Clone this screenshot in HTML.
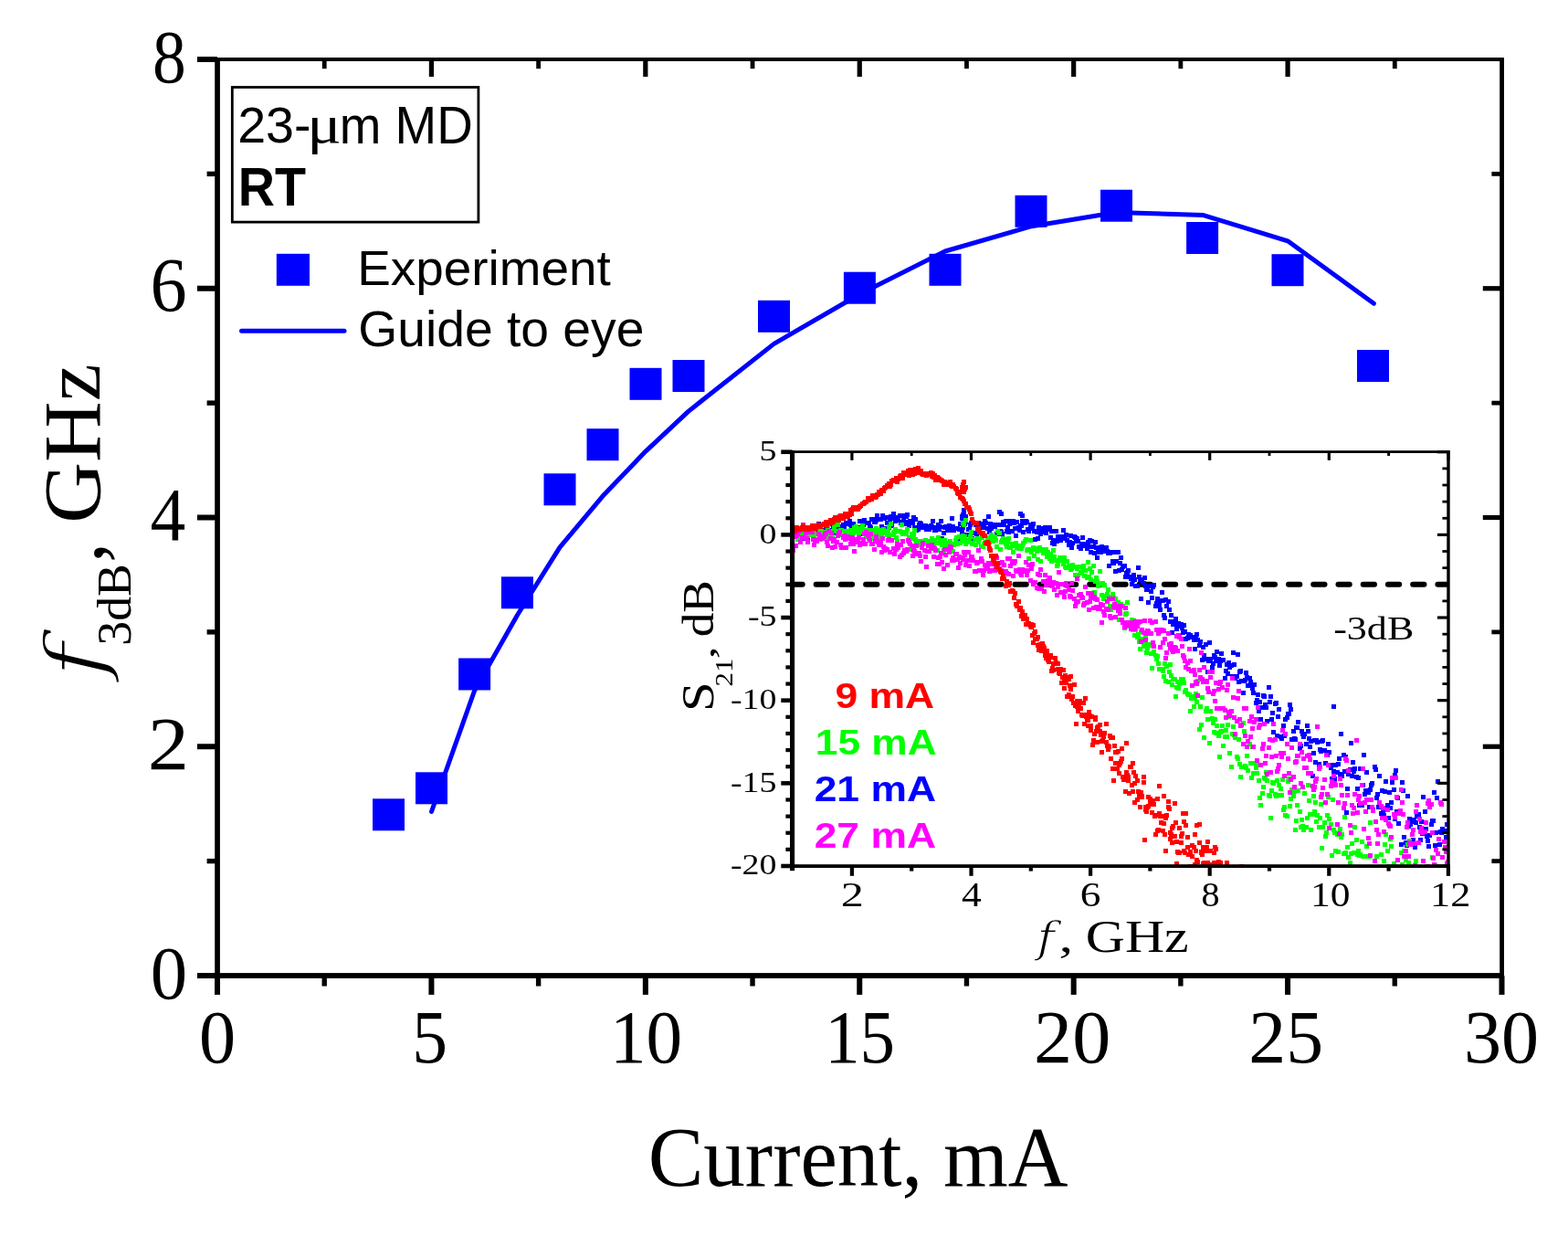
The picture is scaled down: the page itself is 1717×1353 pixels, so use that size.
<!DOCTYPE html>
<html><head><meta charset="utf-8"><title>f3dB vs Current</title>
<style>html,body{margin:0;padding:0;background:#fff;overflow:hidden;}svg{display:block;}</style></head>
<body><svg width="1717" height="1353" viewBox="0 0 1717 1353">
<defs><clipPath id="iclip"><rect x="867.6" y="494.8" width="718.3" height="453.2"/></clipPath></defs>
<rect width="1717" height="1353" fill="#fff"/>
<g id="axes"><rect x="235.20" y="63.00" width="5.70" height="1008.00" fill="#000"/><rect x="1642.20" y="63.00" width="4.80" height="1008.00" fill="#000"/><rect x="235.20" y="63.00" width="1411.80" height="4.00" fill="#000"/><rect x="235.20" y="1065.10" width="1411.80" height="5.80" fill="#000"/><rect x="235.00" y="1068.00" width="6.00" height="20.90" fill="#000"/><rect x="469.42" y="1068.00" width="6.00" height="20.90" fill="#000"/><rect x="703.83" y="1068.00" width="6.00" height="20.90" fill="#000"/><rect x="938.25" y="1068.00" width="6.00" height="20.90" fill="#000"/><rect x="1172.67" y="1068.00" width="6.00" height="20.90" fill="#000"/><rect x="1407.08" y="1068.00" width="6.00" height="20.90" fill="#000"/><rect x="1641.50" y="1068.00" width="6.00" height="20.90" fill="#000"/><rect x="352.51" y="1068.00" width="5.40" height="11.50" fill="#000"/><rect x="586.92" y="1068.00" width="5.40" height="11.50" fill="#000"/><rect x="821.34" y="1068.00" width="5.40" height="11.50" fill="#000"/><rect x="1055.76" y="1068.00" width="5.40" height="11.50" fill="#000"/><rect x="1290.17" y="1068.00" width="5.40" height="11.50" fill="#000"/><rect x="1524.59" y="1068.00" width="5.40" height="11.50" fill="#000"/><rect x="469.82" y="65.00" width="5.20" height="19.00" fill="#000"/><rect x="704.23" y="65.00" width="5.20" height="19.00" fill="#000"/><rect x="938.65" y="65.00" width="5.20" height="19.00" fill="#000"/><rect x="1173.07" y="65.00" width="5.20" height="19.00" fill="#000"/><rect x="1407.48" y="65.00" width="5.20" height="19.00" fill="#000"/><rect x="352.81" y="65.00" width="4.80" height="10.20" fill="#000"/><rect x="587.23" y="65.00" width="4.80" height="10.20" fill="#000"/><rect x="821.64" y="65.00" width="4.80" height="10.20" fill="#000"/><rect x="1056.06" y="65.00" width="4.80" height="10.20" fill="#000"/><rect x="1290.47" y="65.00" width="4.80" height="10.20" fill="#000"/><rect x="1524.89" y="65.00" width="4.80" height="10.20" fill="#000"/><rect x="216.00" y="1065.00" width="22.00" height="6.00" fill="#000"/><rect x="216.00" y="814.25" width="22.00" height="6.00" fill="#000"/><rect x="216.00" y="563.50" width="22.00" height="6.00" fill="#000"/><rect x="216.00" y="312.75" width="22.00" height="6.00" fill="#000"/><rect x="216.00" y="62.00" width="22.00" height="6.00" fill="#000"/><rect x="226.60" y="939.92" width="11.40" height="5.40" fill="#000"/><rect x="226.60" y="689.17" width="11.40" height="5.40" fill="#000"/><rect x="226.60" y="438.43" width="11.40" height="5.40" fill="#000"/><rect x="226.60" y="187.68" width="11.40" height="5.40" fill="#000"/><rect x="1623.80" y="814.65" width="20.70" height="5.20" fill="#000"/><rect x="1623.80" y="563.90" width="20.70" height="5.20" fill="#000"/><rect x="1623.80" y="313.15" width="20.70" height="5.20" fill="#000"/><rect x="1633.40" y="940.23" width="11.10" height="4.80" fill="#000"/><rect x="1633.40" y="689.48" width="11.10" height="4.80" fill="#000"/><rect x="1633.40" y="438.73" width="11.10" height="4.80" fill="#000"/><rect x="1633.40" y="187.97" width="11.10" height="4.80" fill="#000"/></g>
<g id="labels"><text transform="matrix(0.80706 0 0 0.83259 164.87 1093.07)" font-family='"Liberation Serif", serif' font-size="100" fill="#000">0</text><text transform="matrix(0.90500 0 0 0.83019 161.73 842.00)" font-family='"Liberation Serif", serif' font-size="100" fill="#000">2</text><text transform="matrix(0.77419 0 0 0.83346 164.45 590.80)" font-family='"Liberation Serif", serif' font-size="100" fill="#000">4</text><text transform="matrix(0.80234 0 0 0.83717 164.49 341.26)" font-family='"Liberation Serif", serif' font-size="100" fill="#000">6</text><text transform="matrix(0.73412 0 0 0.83111 167.05 90.07)" font-family='"Liberation Serif", serif' font-size="100" fill="#000">8</text><text transform="matrix(0.80235 0 0 0.82963 217.99 1163.07)" font-family='"Liberation Serif", serif' font-size="100" fill="#000">0</text><text transform="matrix(0.77516 0 0 0.82556 451.34 1163.07)" font-family='"Liberation Serif", serif' font-size="100" fill="#000">5</text><text transform="matrix(0.79200 0 0 0.82963 667.97 1163.07)" font-family='"Liberation Serif", serif' font-size="100" fill="#000">10</text><text transform="matrix(0.76905 0 0 0.83433 903.17 1162.97)" font-family='"Liberation Serif", serif' font-size="100" fill="#000">15</text><text transform="matrix(0.84142 0 0 0.82815 1132.11 1162.97)" font-family='"Liberation Serif", serif' font-size="100" fill="#000">20</text><text transform="matrix(0.81858 0 0 0.83123 1367.22 1162.97)" font-family='"Liberation Serif", serif' font-size="100" fill="#000">25</text><text transform="matrix(0.82186 0 0 0.82815 1603.00 1162.97)" font-family='"Liberation Serif", serif' font-size="100" fill="#000">30</text><text transform="matrix(0.91003 0 0 0.93554 709.66 1298.38)" font-family='"Liberation Serif", serif' font-size="100" fill="#000">Current, mA</text></g>
<g id="ytitle"><text transform="matrix(0 -1.04655 0.87132 0 113.22 741.86)" font-family='"DejaVu Serif", serif' font-size="100" font-style="italic" stroke="#fff" stroke-width="2.2942" stroke-linejoin="round" fill="#000">f</text><text transform="matrix(0 -0.53822 0.53050 0 142.77 706.76)" font-family='"Liberation Serif", serif' font-size="100" fill="#000">3dB</text><text transform="matrix(0 -0.87333 0.88544 0 111.68 615.67)" font-family='"Liberation Serif", serif' font-size="100" fill="#000">,</text><text transform="matrix(0 -0.92473 0.89665 0 109.40 572.70)" font-family='"Liberation Serif", serif' font-size="100" fill="#000">GHz</text></g>
<g id="legend"><rect x="254.3" y="95.5" width="269.6" height="147.6" fill="none" stroke="#000" stroke-width="2.8"/><text transform="matrix(0.55556 0 0 0.55265 260.22 156.45)" font-family='"Liberation Sans", sans-serif' font-size="100" fill="#000">23-</text><text transform="matrix(0.70120 0 0 0.59259 336.29 156.06)" font-family='"Liberation Serif", serif' font-size="100" fill="#000">μ</text><text transform="matrix(0.54770 0 0 0.58182 371.70 157.00)" font-family='"Liberation Sans", sans-serif' font-size="100" fill="#000">m MD</text><text transform="matrix(0.55697 0 0 0.58473 260.74 225.00)" font-family='"Liberation Sans", sans-serif' font-size="100" font-weight="bold" fill="#000">RT</text><rect x="302.80" y="277.80" width="36.20" height="35.00" fill="#0000ff"/><text transform="matrix(0.54877 0 0 0.54370 391.27 312.22)" font-family='"Liberation Sans", sans-serif' font-size="100" fill="#000">Experiment</text><line x1="264.5" y1="362.3" x2="377.0" y2="362.3" stroke="#0000ff" stroke-width="5" stroke-linecap="round"/><text transform="matrix(0.55240 0 0 0.55121 392.24 379.06)" font-family='"Liberation Sans", sans-serif' font-size="100" fill="#000">Guide to eye</text></g>
<polyline fill="none" stroke="#0000ff" stroke-width="5" stroke-linejoin="round" stroke-linecap="round" points="472.5,888.5 519.6,756.0 566.4,673.5 613.0,599.1 660.0,543.1 707.0,494.1 754.0,450.1 847.5,376.4 941.4,322.0 1035.0,275.0 1129.5,247.7 1222.5,232.5 1317.8,235.6 1410.1,263.8 1504.4,332.2"/>
<g fill="#0000ff"><rect x="408.00" y="874.30" width="35.00" height="35.00" fill="#0000ff"/><rect x="455.00" y="845.30" width="35.00" height="35.00" fill="#0000ff"/><rect x="502.10" y="720.50" width="35.00" height="35.00" fill="#0000ff"/><rect x="548.90" y="631.30" width="35.00" height="35.00" fill="#0000ff"/><rect x="595.50" y="518.30" width="35.00" height="35.00" fill="#0000ff"/><rect x="642.50" y="469.20" width="35.00" height="35.00" fill="#0000ff"/><rect x="689.50" y="402.80" width="35.00" height="35.00" fill="#0000ff"/><rect x="736.50" y="394.00" width="35.00" height="35.00" fill="#0000ff"/><rect x="830.00" y="328.80" width="35.00" height="35.00" fill="#0000ff"/><rect x="923.90" y="297.70" width="35.00" height="35.00" fill="#0000ff"/><rect x="1017.50" y="277.80" width="35.00" height="35.00" fill="#0000ff"/><rect x="1111.50" y="213.80" width="35.00" height="35.00" fill="#0000ff"/><rect x="1205.00" y="207.70" width="35.00" height="35.00" fill="#0000ff"/><rect x="1299.10" y="243.00" width="35.00" height="35.00" fill="#0000ff"/><rect x="1392.50" y="278.20" width="35.00" height="35.00" fill="#0000ff"/><rect x="1486.00" y="383.00" width="35.00" height="35.00" fill="#0000ff"/></g>
<g id="inset"><line x1="867.6" y1="639.79" x2="1585.9" y2="639.79" stroke="#000" stroke-width="6" stroke-dasharray="12.3 14.93" stroke-dashoffset="1.2" stroke-linecap="round" clip-path="url(#iclip)"/><path fill="#0000ff" clip-path="url(#iclip)" d="M862 582h5v5h-5zM863 579h5v5h-5zM864 582h5v5h-5zM866 583h5v5h-5zM867 585h5v5h-5zM868 582h5v5h-5zM869 576h5v5h-5zM870 579h5v5h-5zM871 576h5v5h-5zM873 579h5v5h-5zM874 579h5v5h-5zM875 579h5v5h-5zM876 587h5v5h-5zM877 577h5v5h-5zM878 578h5v5h-5zM880 578h5v5h-5zM881 586h5v5h-5zM882 586h5v5h-5zM883 583h5v5h-5zM884 581h5v5h-5zM885 578h5v5h-5zM887 579h5v5h-5zM888 577h5v5h-5zM889 581h5v5h-5zM890 577h5v5h-5zM891 577h5v5h-5zM892 581h5v5h-5zM894 571h5v5h-5zM895 576h5v5h-5zM896 573h5v5h-5zM897 580h5v5h-5zM898 581h5v5h-5zM900 579h5v5h-5zM901 578h5v5h-5zM902 574h5v5h-5zM903 576h5v5h-5zM904 578h5v5h-5zM905 580h5v5h-5zM907 578h5v5h-5zM908 571h5v5h-5zM909 579h5v5h-5zM910 574h5v5h-5zM911 573h5v5h-5zM912 581h5v5h-5zM914 575h5v5h-5zM915 569h5v5h-5zM916 583h5v5h-5zM917 575h5v5h-5zM918 574h5v5h-5zM919 577h5v5h-5zM921 572h5v5h-5zM922 574h5v5h-5zM923 580h5v5h-5zM924 570h5v5h-5zM925 571h5v5h-5zM926 570h5v5h-5zM928 568h5v5h-5zM929 572h5v5h-5zM930 573h5v5h-5zM931 579h5v5h-5zM932 571h5v5h-5zM933 576h5v5h-5zM935 575h5v5h-5zM936 579h5v5h-5zM937 577h5v5h-5zM938 575h5v5h-5zM939 568h5v5h-5zM940 582h5v5h-5zM942 579h5v5h-5zM943 572h5v5h-5zM944 567h5v5h-5zM945 570h5v5h-5zM946 580h5v5h-5zM948 582h5v5h-5zM949 570h5v5h-5zM950 574h5v5h-5zM951 575h5v5h-5zM952 566h5v5h-5zM953 566h5v5h-5zM955 569h5v5h-5zM956 569h5v5h-5zM957 567h5v5h-5zM958 562h5v5h-5zM959 566h5v5h-5zM960 566h5v5h-5zM962 566h5v5h-5zM963 574h5v5h-5zM964 562h5v5h-5zM965 564h5v5h-5zM966 565h5v5h-5zM967 576h5v5h-5zM969 570h5v5h-5zM970 564h5v5h-5zM971 575h5v5h-5zM972 568h5v5h-5zM973 563h5v5h-5zM974 573h5v5h-5zM976 560h5v5h-5zM977 565h5v5h-5zM978 568h5v5h-5zM979 566h5v5h-5zM980 564h5v5h-5zM981 567h5v5h-5zM983 562h5v5h-5zM984 570h5v5h-5zM985 569h5v5h-5zM986 562h5v5h-5zM987 567h5v5h-5zM988 571h5v5h-5zM990 563h5v5h-5zM991 561h5v5h-5zM992 569h5v5h-5zM993 573h5v5h-5zM994 568h5v5h-5zM996 568h5v5h-5zM997 570h5v5h-5zM998 564h5v5h-5zM999 575h5v5h-5zM1000 566h5v5h-5zM1001 578h5v5h-5zM1003 577h5v5h-5zM1004 572h5v5h-5zM1005 570h5v5h-5zM1006 571h5v5h-5zM1007 574h5v5h-5zM1008 575h5v5h-5zM1010 575h5v5h-5zM1011 573h5v5h-5zM1012 577h5v5h-5zM1013 575h5v5h-5zM1014 574h5v5h-5zM1015 577h5v5h-5zM1017 573h5v5h-5zM1018 574h5v5h-5zM1019 568h5v5h-5zM1020 575h5v5h-5zM1021 578h5v5h-5zM1022 578h5v5h-5zM1024 576h5v5h-5zM1025 572h5v5h-5zM1026 577h5v5h-5zM1027 574h5v5h-5zM1028 568h5v5h-5zM1029 587h5v5h-5zM1031 581h5v5h-5zM1032 575h5v5h-5zM1033 574h5v5h-5zM1034 575h5v5h-5zM1035 578h5v5h-5zM1037 573h5v5h-5zM1038 574h5v5h-5zM1039 578h5v5h-5zM1040 565h5v5h-5zM1041 574h5v5h-5zM1042 578h5v5h-5zM1044 576h5v5h-5zM1045 576h5v5h-5zM1046 576h5v5h-5zM1047 587h5v5h-5zM1048 577h5v5h-5zM1049 571h5v5h-5zM1051 580h5v5h-5zM1052 575h5v5h-5zM1053 571h5v5h-5zM1054 571h5v5h-5zM1055 569h5v5h-5zM1056 583h5v5h-5zM1058 577h5v5h-5zM1059 577h5v5h-5zM1060 572h5v5h-5zM1061 570h5v5h-5zM1062 587h5v5h-5zM1063 570h5v5h-5zM1065 581h5v5h-5zM1066 572h5v5h-5zM1067 582h5v5h-5zM1068 574h5v5h-5zM1069 570h5v5h-5zM1070 576h5v5h-5zM1072 574h5v5h-5zM1073 571h5v5h-5zM1074 574h5v5h-5zM1075 575h5v5h-5zM1076 568h5v5h-5zM1077 570h5v5h-5zM1079 576h5v5h-5zM1080 563h5v5h-5zM1081 580h5v5h-5zM1082 571h5v5h-5zM1083 576h5v5h-5zM1085 574h5v5h-5zM1086 572h5v5h-5zM1087 574h5v5h-5zM1088 572h5v5h-5zM1089 582h5v5h-5zM1090 582h5v5h-5zM1092 572h5v5h-5zM1093 579h5v5h-5zM1094 580h5v5h-5zM1095 582h5v5h-5zM1096 569h5v5h-5zM1097 572h5v5h-5zM1099 568h5v5h-5zM1100 579h5v5h-5zM1101 575h5v5h-5zM1102 580h5v5h-5zM1103 571h5v5h-5zM1104 568h5v5h-5zM1106 579h5v5h-5zM1107 568h5v5h-5zM1108 570h5v5h-5zM1109 576h5v5h-5zM1110 584h5v5h-5zM1111 569h5v5h-5zM1113 575h5v5h-5zM1114 578h5v5h-5zM1115 573h5v5h-5zM1116 573h5v5h-5zM1117 568h5v5h-5zM1118 580h5v5h-5zM1120 570h5v5h-5zM1121 568h5v5h-5zM1122 569h5v5h-5zM1123 577h5v5h-5zM1124 579h5v5h-5zM1126 572h5v5h-5zM1127 576h5v5h-5zM1128 576h5v5h-5zM1129 571h5v5h-5zM1130 579h5v5h-5zM1131 588h5v5h-5zM1133 580h5v5h-5zM1134 587h5v5h-5zM1135 575h5v5h-5zM1136 578h5v5h-5zM1137 582h5v5h-5zM1138 580h5v5h-5zM1140 576h5v5h-5zM1141 580h5v5h-5zM1142 575h5v5h-5zM1143 581h5v5h-5zM1144 577h5v5h-5zM1145 575h5v5h-5zM1147 575h5v5h-5zM1148 586h5v5h-5zM1149 579h5v5h-5zM1150 592h5v5h-5zM1151 589h5v5h-5zM1152 593h5v5h-5zM1154 579h5v5h-5zM1155 590h5v5h-5zM1156 585h5v5h-5zM1157 586h5v5h-5zM1158 586h5v5h-5zM1159 589h5v5h-5zM1161 585h5v5h-5zM1162 578h5v5h-5zM1163 587h5v5h-5zM1164 585h5v5h-5zM1165 583h5v5h-5zM1166 589h5v5h-5zM1168 594h5v5h-5zM1169 591h5v5h-5zM1170 584h5v5h-5zM1171 597h5v5h-5zM1172 592h5v5h-5zM1174 585h5v5h-5zM1175 586h5v5h-5zM1176 590h5v5h-5zM1177 587h5v5h-5zM1178 590h5v5h-5zM1179 596h5v5h-5zM1181 598h5v5h-5zM1182 593h5v5h-5zM1183 586h5v5h-5zM1184 593h5v5h-5zM1185 595h5v5h-5zM1186 594h5v5h-5zM1188 598h5v5h-5zM1189 591h5v5h-5zM1190 596h5v5h-5zM1191 589h5v5h-5zM1192 602h5v5h-5zM1193 590h5v5h-5zM1195 596h5v5h-5zM1196 603h5v5h-5zM1197 591h5v5h-5zM1198 597h5v5h-5zM1199 608h5v5h-5zM1200 602h5v5h-5zM1202 597h5v5h-5zM1203 602h5v5h-5zM1204 596h5v5h-5zM1205 597h5v5h-5zM1206 599h5v5h-5zM1207 601h5v5h-5zM1209 597h5v5h-5zM1210 601h5v5h-5zM1211 603h5v5h-5zM1212 617h5v5h-5zM1213 603h5v5h-5zM1214 602h5v5h-5zM1216 612h5v5h-5zM1217 614h5v5h-5zM1218 602h5v5h-5zM1219 623h5v5h-5zM1220 612h5v5h-5zM1222 602h5v5h-5zM1223 622h5v5h-5zM1224 614h5v5h-5zM1225 608h5v5h-5zM1226 621h5v5h-5zM1227 618h5v5h-5zM1229 617h5v5h-5zM1230 629h5v5h-5zM1231 625h5v5h-5zM1232 624h5v5h-5zM1233 622h5v5h-5zM1234 629h5v5h-5zM1236 631h5v5h-5zM1237 637h5v5h-5zM1238 633h5v5h-5zM1239 627h5v5h-5zM1240 632h5v5h-5zM1241 639h5v5h-5zM1243 639h5v5h-5zM1244 619h5v5h-5zM1245 629h5v5h-5zM1246 632h5v5h-5zM1247 653h5v5h-5zM1248 634h5v5h-5zM1250 636h5v5h-5zM1251 630h5v5h-5zM1252 639h5v5h-5zM1253 643h5v5h-5zM1254 640h5v5h-5zM1255 657h5v5h-5zM1257 639h5v5h-5zM1258 645h5v5h-5zM1259 652h5v5h-5zM1260 640h5v5h-5zM1261 638h5v5h-5zM1263 661h5v5h-5zM1264 658h5v5h-5zM1265 653h5v5h-5zM1266 655h5v5h-5zM1267 660h5v5h-5zM1268 665h5v5h-5zM1270 646h5v5h-5zM1271 655h5v5h-5zM1272 671h5v5h-5zM1273 674h5v5h-5zM1274 654h5v5h-5zM1275 661h5v5h-5zM1277 656h5v5h-5zM1278 665h5v5h-5zM1279 678h5v5h-5zM1280 671h5v5h-5zM1281 690h5v5h-5zM1282 681h5v5h-5zM1284 678h5v5h-5zM1285 675h5v5h-5zM1286 686h5v5h-5zM1287 683h5v5h-5zM1288 680h5v5h-5zM1289 682h5v5h-5zM1291 681h5v5h-5zM1292 685h5v5h-5zM1293 690h5v5h-5zM1294 682h5v5h-5zM1295 689h5v5h-5zM1296 697h5v5h-5zM1298 696h5v5h-5zM1299 692h5v5h-5zM1300 694h5v5h-5zM1301 693h5v5h-5zM1302 695h5v5h-5zM1303 695h5v5h-5zM1305 698h5v5h-5zM1306 708h5v5h-5zM1307 696h5v5h-5zM1308 692h5v5h-5zM1309 698h5v5h-5zM1311 704h5v5h-5zM1312 700h5v5h-5zM1313 712h5v5h-5zM1314 720h5v5h-5zM1315 706h5v5h-5zM1316 715h5v5h-5zM1318 703h5v5h-5zM1319 719h5v5h-5zM1320 733h5v5h-5zM1321 721h5v5h-5zM1322 701h5v5h-5zM1323 719h5v5h-5zM1325 728h5v5h-5zM1326 724h5v5h-5zM1327 715h5v5h-5zM1328 717h5v5h-5zM1329 721h5v5h-5zM1330 711h5v5h-5zM1332 719h5v5h-5zM1333 726h5v5h-5zM1334 721h5v5h-5zM1335 713h5v5h-5zM1336 720h5v5h-5zM1337 720h5v5h-5zM1339 740h5v5h-5zM1340 732h5v5h-5zM1341 725h5v5h-5zM1342 735h5v5h-5zM1343 723h5v5h-5zM1344 728h5v5h-5zM1346 726h5v5h-5zM1347 738h5v5h-5zM1348 712h5v5h-5zM1349 725h5v5h-5zM1350 740h5v5h-5zM1352 738h5v5h-5zM1353 714h5v5h-5zM1354 744h5v5h-5zM1355 733h5v5h-5zM1356 732h5v5h-5zM1357 743h5v5h-5zM1359 756h5v5h-5zM1360 743h5v5h-5zM1361 742h5v5h-5zM1362 734h5v5h-5zM1363 739h5v5h-5zM1364 748h5v5h-5zM1366 740h5v5h-5zM1367 744h5v5h-5zM1368 748h5v5h-5zM1369 751h5v5h-5zM1370 756h5v5h-5zM1371 747h5v5h-5zM1373 767h5v5h-5zM1374 764h5v5h-5zM1375 758h5v5h-5zM1376 776h5v5h-5zM1377 766h5v5h-5zM1378 785h5v5h-5zM1380 772h5v5h-5zM1381 759h5v5h-5zM1382 760h5v5h-5zM1383 769h5v5h-5zM1384 772h5v5h-5zM1385 787h5v5h-5zM1387 750h5v5h-5zM1388 766h5v5h-5zM1389 760h5v5h-5zM1390 785h5v5h-5zM1391 778h5v5h-5zM1392 799h5v5h-5zM1394 768h5v5h-5zM1395 767h5v5h-5zM1396 803h5v5h-5zM1397 782h5v5h-5zM1398 774h5v5h-5zM1400 804h5v5h-5zM1401 806h5v5h-5zM1402 797h5v5h-5zM1403 792h5v5h-5zM1404 803h5v5h-5zM1405 785h5v5h-5zM1407 783h5v5h-5zM1408 779h5v5h-5zM1409 779h5v5h-5zM1410 769h5v5h-5zM1411 774h5v5h-5zM1412 807h5v5h-5zM1414 798h5v5h-5zM1415 806h5v5h-5zM1416 807h5v5h-5zM1417 794h5v5h-5zM1418 794h5v5h-5zM1419 788h5v5h-5zM1421 817h5v5h-5zM1422 814h5v5h-5zM1423 798h5v5h-5zM1424 801h5v5h-5zM1425 804h5v5h-5zM1426 801h5v5h-5zM1428 812h5v5h-5zM1429 792h5v5h-5zM1430 798h5v5h-5zM1431 806h5v5h-5zM1432 815h5v5h-5zM1433 809h5v5h-5zM1435 847h5v5h-5zM1436 822h5v5h-5zM1437 808h5v5h-5zM1438 832h5v5h-5zM1439 808h5v5h-5zM1440 810h5v5h-5zM1442 834h5v5h-5zM1443 818h5v5h-5zM1444 820h5v5h-5zM1445 809h5v5h-5zM1446 808h5v5h-5zM1448 819h5v5h-5zM1449 833h5v5h-5zM1450 823h5v5h-5zM1451 824h5v5h-5zM1452 812h5v5h-5zM1453 821h5v5h-5zM1455 838h5v5h-5zM1456 850h5v5h-5zM1457 835h5v5h-5zM1458 842h5v5h-5zM1459 850h5v5h-5zM1460 835h5v5h-5zM1462 843h5v5h-5zM1463 834h5v5h-5zM1464 828h5v5h-5zM1465 845h5v5h-5zM1466 801h5v5h-5zM1467 847h5v5h-5zM1469 824h5v5h-5zM1470 842h5v5h-5zM1471 826h5v5h-5zM1472 887h5v5h-5zM1473 861h5v5h-5zM1474 845h5v5h-5zM1476 840h5v5h-5zM1477 811h5v5h-5zM1478 847h5v5h-5zM1479 832h5v5h-5zM1480 842h5v5h-5zM1481 839h5v5h-5zM1483 848h5v5h-5zM1484 861h5v5h-5zM1485 849h5v5h-5zM1486 879h5v5h-5zM1487 839h5v5h-5zM1489 879h5v5h-5zM1490 857h5v5h-5zM1491 824h5v5h-5zM1492 867h5v5h-5zM1493 863h5v5h-5zM1494 843h5v5h-5zM1496 865h5v5h-5zM1497 881h5v5h-5zM1498 862h5v5h-5zM1499 857h5v5h-5zM1500 855h5v5h-5zM1501 884h5v5h-5zM1503 837h5v5h-5zM1504 840h5v5h-5zM1505 871h5v5h-5zM1506 867h5v5h-5zM1507 881h5v5h-5zM1508 847h5v5h-5zM1510 888h5v5h-5zM1511 863h5v5h-5zM1512 885h5v5h-5zM1513 890h5v5h-5zM1514 864h5v5h-5zM1515 853h5v5h-5zM1517 879h5v5h-5zM1518 893h5v5h-5zM1519 865h5v5h-5zM1520 882h5v5h-5zM1521 876h5v5h-5zM1522 854h5v5h-5zM1524 862h5v5h-5zM1525 894h5v5h-5zM1526 841h5v5h-5zM1527 886h5v5h-5zM1528 871h5v5h-5zM1529 899h5v5h-5zM1531 888h5v5h-5zM1532 922h5v5h-5zM1533 854h5v5h-5zM1534 863h5v5h-5zM1535 914h5v5h-5zM1537 920h5v5h-5zM1538 923h5v5h-5zM1539 869h5v5h-5zM1540 902h5v5h-5zM1541 894h5v5h-5zM1542 900h5v5h-5zM1544 897h5v5h-5zM1545 917h5v5h-5zM1546 895h5v5h-5zM1547 925h5v5h-5zM1548 898h5v5h-5zM1549 891h5v5h-5zM1551 889h5v5h-5zM1552 903h5v5h-5zM1553 917h5v5h-5zM1554 897h5v5h-5zM1555 910h5v5h-5zM1556 870h5v5h-5zM1558 886h5v5h-5zM1559 905h5v5h-5zM1560 913h5v5h-5zM1561 918h5v5h-5zM1562 924h5v5h-5zM1563 912h5v5h-5zM1565 900h5v5h-5zM1566 896h5v5h-5zM1567 896h5v5h-5zM1568 865h5v5h-5zM1569 923h5v5h-5zM1570 909h5v5h-5zM1572 853h5v5h-5zM1573 949h5v5h-5zM1574 922h5v5h-5zM1575 908h5v5h-5zM1576 909h5v5h-5zM1577 905h5v5h-5zM1579 919h5v5h-5zM1580 907h5v5h-5zM1581 914h5v5h-5zM1582 900h5v5h-5zM1585 935h5v5h-5zM1586 917h5v5h-5zM1587 938h5v5h-5zM1051 565h5v5h-5zM1051 563h5v5h-5zM1052 561h5v5h-5zM1053 558h5v5h-5zM1053 556h5v5h-5zM1054 565h5v5h-5zM1055 563h5v5h-5zM1092 558h5v5h-5zM1094 560h5v5h-5zM1115 560h5v5h-5zM1117 562h5v5h-5zM1458 771h5v5h-5zM1525 846h5v5h-5zM1571 871h5v5h-5z"/><path fill="#00ff00" clip-path="url(#iclip)" d="M862 587h5v5h-5zM863 581h5v5h-5zM864 585h5v5h-5zM866 581h5v5h-5zM867 580h5v5h-5zM868 582h5v5h-5zM869 581h5v5h-5zM870 583h5v5h-5zM871 588h5v5h-5zM873 583h5v5h-5zM874 581h5v5h-5zM875 585h5v5h-5zM876 583h5v5h-5zM877 580h5v5h-5zM878 586h5v5h-5zM880 580h5v5h-5zM881 575h5v5h-5zM882 584h5v5h-5zM883 582h5v5h-5zM884 583h5v5h-5zM885 576h5v5h-5zM887 581h5v5h-5zM888 579h5v5h-5zM889 584h5v5h-5zM890 582h5v5h-5zM891 582h5v5h-5zM892 588h5v5h-5zM894 576h5v5h-5zM895 578h5v5h-5zM896 588h5v5h-5zM897 579h5v5h-5zM898 582h5v5h-5zM900 580h5v5h-5zM901 580h5v5h-5zM902 587h5v5h-5zM903 582h5v5h-5zM904 575h5v5h-5zM905 583h5v5h-5zM907 585h5v5h-5zM908 586h5v5h-5zM909 585h5v5h-5zM910 579h5v5h-5zM911 574h5v5h-5zM912 579h5v5h-5zM914 579h5v5h-5zM915 572h5v5h-5zM916 582h5v5h-5zM917 583h5v5h-5zM918 578h5v5h-5zM919 578h5v5h-5zM921 584h5v5h-5zM922 584h5v5h-5zM923 579h5v5h-5zM924 579h5v5h-5zM925 585h5v5h-5zM926 580h5v5h-5zM928 582h5v5h-5zM929 578h5v5h-5zM930 580h5v5h-5zM931 580h5v5h-5zM932 581h5v5h-5zM933 575h5v5h-5zM935 574h5v5h-5zM936 580h5v5h-5zM937 576h5v5h-5zM938 582h5v5h-5zM939 578h5v5h-5zM940 576h5v5h-5zM942 573h5v5h-5zM943 580h5v5h-5zM944 579h5v5h-5zM945 578h5v5h-5zM946 585h5v5h-5zM948 579h5v5h-5zM949 582h5v5h-5zM950 578h5v5h-5zM951 584h5v5h-5zM952 587h5v5h-5zM953 579h5v5h-5zM955 578h5v5h-5zM956 582h5v5h-5zM957 576h5v5h-5zM958 581h5v5h-5zM959 582h5v5h-5zM960 578h5v5h-5zM962 586h5v5h-5zM963 583h5v5h-5zM964 580h5v5h-5zM965 577h5v5h-5zM966 581h5v5h-5zM967 579h5v5h-5zM969 583h5v5h-5zM970 579h5v5h-5zM971 574h5v5h-5zM972 583h5v5h-5zM973 571h5v5h-5zM974 583h5v5h-5zM976 581h5v5h-5zM977 580h5v5h-5zM978 577h5v5h-5zM979 586h5v5h-5zM980 590h5v5h-5zM981 579h5v5h-5zM983 579h5v5h-5zM984 580h5v5h-5zM985 572h5v5h-5zM986 582h5v5h-5zM987 582h5v5h-5zM988 580h5v5h-5zM990 582h5v5h-5zM991 577h5v5h-5zM992 589h5v5h-5zM993 586h5v5h-5zM994 599h5v5h-5zM996 582h5v5h-5zM997 587h5v5h-5zM998 583h5v5h-5zM999 578h5v5h-5zM1000 588h5v5h-5zM1001 590h5v5h-5zM1003 592h5v5h-5zM1004 594h5v5h-5zM1005 594h5v5h-5zM1006 590h5v5h-5zM1007 592h5v5h-5zM1008 592h5v5h-5zM1010 593h5v5h-5zM1011 589h5v5h-5zM1012 591h5v5h-5zM1013 593h5v5h-5zM1014 590h5v5h-5zM1015 594h5v5h-5zM1017 598h5v5h-5zM1018 587h5v5h-5zM1019 591h5v5h-5zM1020 597h5v5h-5zM1021 589h5v5h-5zM1022 592h5v5h-5zM1024 600h5v5h-5zM1025 586h5v5h-5zM1026 592h5v5h-5zM1027 589h5v5h-5zM1028 592h5v5h-5zM1029 594h5v5h-5zM1031 600h5v5h-5zM1032 589h5v5h-5zM1033 593h5v5h-5zM1034 594h5v5h-5zM1035 592h5v5h-5zM1037 593h5v5h-5zM1038 590h5v5h-5zM1039 594h5v5h-5zM1040 593h5v5h-5zM1041 601h5v5h-5zM1042 594h5v5h-5zM1044 589h5v5h-5zM1045 586h5v5h-5zM1046 593h5v5h-5zM1047 592h5v5h-5zM1048 585h5v5h-5zM1049 592h5v5h-5zM1051 588h5v5h-5zM1052 584h5v5h-5zM1053 590h5v5h-5zM1054 585h5v5h-5zM1055 593h5v5h-5zM1056 589h5v5h-5zM1058 591h5v5h-5zM1059 590h5v5h-5zM1060 585h5v5h-5zM1061 580h5v5h-5zM1062 593h5v5h-5zM1063 592h5v5h-5zM1065 588h5v5h-5zM1066 594h5v5h-5zM1067 588h5v5h-5zM1068 587h5v5h-5zM1069 591h5v5h-5zM1070 587h5v5h-5zM1072 596h5v5h-5zM1073 586h5v5h-5zM1074 596h5v5h-5zM1075 593h5v5h-5zM1076 592h5v5h-5zM1077 591h5v5h-5zM1079 586h5v5h-5zM1080 589h5v5h-5zM1081 591h5v5h-5zM1082 587h5v5h-5zM1083 583h5v5h-5zM1085 590h5v5h-5zM1086 588h5v5h-5zM1087 585h5v5h-5zM1088 589h5v5h-5zM1089 596h5v5h-5zM1090 579h5v5h-5zM1092 581h5v5h-5zM1093 599h5v5h-5zM1094 591h5v5h-5zM1095 589h5v5h-5zM1096 587h5v5h-5zM1097 588h5v5h-5zM1099 593h5v5h-5zM1100 596h5v5h-5zM1101 591h5v5h-5zM1102 587h5v5h-5zM1103 597h5v5h-5zM1104 597h5v5h-5zM1106 593h5v5h-5zM1107 602h5v5h-5zM1108 594h5v5h-5zM1109 595h5v5h-5zM1110 592h5v5h-5zM1111 597h5v5h-5zM1113 598h5v5h-5zM1114 596h5v5h-5zM1115 595h5v5h-5zM1116 598h5v5h-5zM1117 595h5v5h-5zM1118 592h5v5h-5zM1120 590h5v5h-5zM1121 588h5v5h-5zM1122 600h5v5h-5zM1123 599h5v5h-5zM1124 609h5v5h-5zM1126 589h5v5h-5zM1127 602h5v5h-5zM1128 599h5v5h-5zM1129 597h5v5h-5zM1130 606h5v5h-5zM1131 598h5v5h-5zM1133 601h5v5h-5zM1134 610h5v5h-5zM1135 600h5v5h-5zM1136 597h5v5h-5zM1137 612h5v5h-5zM1138 599h5v5h-5zM1140 603h5v5h-5zM1141 602h5v5h-5zM1142 602h5v5h-5zM1143 599h5v5h-5zM1144 607h5v5h-5zM1145 602h5v5h-5zM1147 609h5v5h-5zM1148 604h5v5h-5zM1149 612h5v5h-5zM1150 609h5v5h-5zM1151 600h5v5h-5zM1152 607h5v5h-5zM1154 611h5v5h-5zM1155 617h5v5h-5zM1156 615h5v5h-5zM1157 611h5v5h-5zM1158 608h5v5h-5zM1159 611h5v5h-5zM1161 611h5v5h-5zM1162 615h5v5h-5zM1163 608h5v5h-5zM1164 618h5v5h-5zM1165 619h5v5h-5zM1166 612h5v5h-5zM1168 617h5v5h-5zM1169 619h5v5h-5zM1170 621h5v5h-5zM1171 620h5v5h-5zM1172 616h5v5h-5zM1174 618h5v5h-5zM1175 627h5v5h-5zM1176 618h5v5h-5zM1177 620h5v5h-5zM1178 627h5v5h-5zM1179 618h5v5h-5zM1181 624h5v5h-5zM1182 625h5v5h-5zM1183 619h5v5h-5zM1184 617h5v5h-5zM1185 628h5v5h-5zM1186 622h5v5h-5zM1188 630h5v5h-5zM1189 613h5v5h-5zM1190 629h5v5h-5zM1191 620h5v5h-5zM1192 632h5v5h-5zM1193 624h5v5h-5zM1195 617h5v5h-5zM1196 646h5v5h-5zM1197 634h5v5h-5zM1198 630h5v5h-5zM1199 634h5v5h-5zM1200 639h5v5h-5zM1202 623h5v5h-5zM1203 637h5v5h-5zM1204 649h5v5h-5zM1205 636h5v5h-5zM1206 653h5v5h-5zM1207 638h5v5h-5zM1209 650h5v5h-5zM1210 648h5v5h-5zM1211 643h5v5h-5zM1212 651h5v5h-5zM1213 661h5v5h-5zM1214 665h5v5h-5zM1216 648h5v5h-5zM1217 652h5v5h-5zM1218 663h5v5h-5zM1219 653h5v5h-5zM1220 657h5v5h-5zM1222 657h5v5h-5zM1223 676h5v5h-5zM1224 665h5v5h-5zM1225 659h5v5h-5zM1226 661h5v5h-5zM1227 661h5v5h-5zM1229 685h5v5h-5zM1230 670h5v5h-5zM1231 669h5v5h-5zM1232 657h5v5h-5zM1233 683h5v5h-5zM1234 680h5v5h-5zM1236 680h5v5h-5zM1237 676h5v5h-5zM1238 687h5v5h-5zM1239 677h5v5h-5zM1240 693h5v5h-5zM1241 687h5v5h-5zM1243 695h5v5h-5zM1244 692h5v5h-5zM1245 700h5v5h-5zM1246 708h5v5h-5zM1247 689h5v5h-5zM1248 697h5v5h-5zM1250 705h5v5h-5zM1251 700h5v5h-5zM1252 695h5v5h-5zM1253 712h5v5h-5zM1254 707h5v5h-5zM1255 703h5v5h-5zM1257 704h5v5h-5zM1258 713h5v5h-5zM1259 729h5v5h-5zM1260 702h5v5h-5zM1261 711h5v5h-5zM1263 715h5v5h-5zM1264 719h5v5h-5zM1265 716h5v5h-5zM1266 724h5v5h-5zM1267 730h5v5h-5zM1268 730h5v5h-5zM1270 730h5v5h-5zM1271 732h5v5h-5zM1272 738h5v5h-5zM1273 724h5v5h-5zM1274 743h5v5h-5zM1275 727h5v5h-5zM1277 744h5v5h-5zM1278 733h5v5h-5zM1279 725h5v5h-5zM1280 737h5v5h-5zM1281 747h5v5h-5zM1282 741h5v5h-5zM1284 741h5v5h-5zM1285 760h5v5h-5zM1286 750h5v5h-5zM1287 744h5v5h-5zM1288 751h5v5h-5zM1289 746h5v5h-5zM1291 741h5v5h-5zM1292 741h5v5h-5zM1293 741h5v5h-5zM1294 745h5v5h-5zM1295 755h5v5h-5zM1296 753h5v5h-5zM1298 757h5v5h-5zM1299 758h5v5h-5zM1300 758h5v5h-5zM1301 776h5v5h-5zM1302 762h5v5h-5zM1303 760h5v5h-5zM1305 771h5v5h-5zM1306 762h5v5h-5zM1307 757h5v5h-5zM1308 766h5v5h-5zM1309 743h5v5h-5zM1311 796h5v5h-5zM1312 771h5v5h-5zM1313 791h5v5h-5zM1314 761h5v5h-5zM1315 744h5v5h-5zM1316 805h5v5h-5zM1318 776h5v5h-5zM1319 773h5v5h-5zM1320 785h5v5h-5zM1321 776h5v5h-5zM1322 811h5v5h-5zM1323 776h5v5h-5zM1325 784h5v5h-5zM1326 789h5v5h-5zM1327 799h5v5h-5zM1328 785h5v5h-5zM1329 800h5v5h-5zM1330 792h5v5h-5zM1332 803h5v5h-5zM1333 826h5v5h-5zM1334 799h5v5h-5zM1335 798h5v5h-5zM1336 792h5v5h-5zM1337 814h5v5h-5zM1339 804h5v5h-5zM1340 797h5v5h-5zM1341 804h5v5h-5zM1342 791h5v5h-5zM1343 782h5v5h-5zM1344 822h5v5h-5zM1346 837h5v5h-5zM1347 801h5v5h-5zM1348 793h5v5h-5zM1349 802h5v5h-5zM1350 805h5v5h-5zM1352 826h5v5h-5zM1353 828h5v5h-5zM1354 807h5v5h-5zM1355 834h5v5h-5zM1356 848h5v5h-5zM1357 837h5v5h-5zM1359 789h5v5h-5zM1360 798h5v5h-5zM1361 836h5v5h-5zM1362 838h5v5h-5zM1363 825h5v5h-5zM1364 841h5v5h-5zM1366 812h5v5h-5zM1367 833h5v5h-5zM1368 849h5v5h-5zM1369 815h5v5h-5zM1370 844h5v5h-5zM1371 833h5v5h-5zM1373 838h5v5h-5zM1374 844h5v5h-5zM1375 835h5v5h-5zM1376 852h5v5h-5zM1377 871h5v5h-5zM1378 879h5v5h-5zM1380 866h5v5h-5zM1381 859h5v5h-5zM1382 849h5v5h-5zM1383 850h5v5h-5zM1384 843h5v5h-5zM1385 852h5v5h-5zM1387 868h5v5h-5zM1388 869h5v5h-5zM1389 893h5v5h-5zM1390 863h5v5h-5zM1391 854h5v5h-5zM1392 855h5v5h-5zM1394 867h5v5h-5zM1395 869h5v5h-5zM1396 852h5v5h-5zM1397 868h5v5h-5zM1398 857h5v5h-5zM1400 861h5v5h-5zM1401 868h5v5h-5zM1402 851h5v5h-5zM1403 884h5v5h-5zM1404 881h5v5h-5zM1405 890h5v5h-5zM1407 891h5v5h-5zM1408 853h5v5h-5zM1409 850h5v5h-5zM1410 880h5v5h-5zM1411 872h5v5h-5zM1412 862h5v5h-5zM1414 869h5v5h-5zM1415 864h5v5h-5zM1416 906h5v5h-5zM1417 896h5v5h-5zM1418 879h5v5h-5zM1419 863h5v5h-5zM1421 886h5v5h-5zM1422 903h5v5h-5zM1423 895h5v5h-5zM1424 902h5v5h-5zM1425 906h5v5h-5zM1426 866h5v5h-5zM1428 903h5v5h-5zM1429 893h5v5h-5zM1430 857h5v5h-5zM1431 874h5v5h-5zM1432 889h5v5h-5zM1433 906h5v5h-5zM1435 889h5v5h-5zM1436 869h5v5h-5zM1437 886h5v5h-5zM1438 876h5v5h-5zM1439 897h5v5h-5zM1440 890h5v5h-5zM1442 903h5v5h-5zM1443 893h5v5h-5zM1444 878h5v5h-5zM1445 926h5v5h-5zM1446 903h5v5h-5zM1448 898h5v5h-5zM1449 913h5v5h-5zM1450 909h5v5h-5zM1451 890h5v5h-5zM1452 870h5v5h-5zM1453 894h5v5h-5zM1455 900h5v5h-5zM1456 934h5v5h-5zM1457 873h5v5h-5zM1458 906h5v5h-5zM1459 909h5v5h-5zM1460 929h5v5h-5zM1462 911h5v5h-5zM1463 930h5v5h-5zM1464 911h5v5h-5zM1465 905h5v5h-5zM1466 914h5v5h-5zM1467 911h5v5h-5zM1469 932h5v5h-5zM1470 892h5v5h-5zM1471 931h5v5h-5zM1473 925h5v5h-5zM1474 936h5v5h-5zM1476 942h5v5h-5zM1477 932h5v5h-5zM1478 921h5v5h-5zM1479 949h5v5h-5zM1480 931h5v5h-5zM1481 903h5v5h-5zM1483 917h5v5h-5zM1484 933h5v5h-5zM1485 929h5v5h-5zM1486 934h5v5h-5zM1487 933h5v5h-5zM1489 919h5v5h-5zM1490 935h5v5h-5zM1492 935h5v5h-5zM1494 924h5v5h-5zM1496 948h5v5h-5zM1497 935h5v5h-5zM1498 898h5v5h-5zM1505 935h5v5h-5zM1510 933h5v5h-5zM1513 940h5v5h-5zM1514 922h5v5h-5zM1515 911h5v5h-5zM1517 929h5v5h-5zM1518 946h5v5h-5zM1519 946h5v5h-5zM1520 916h5v5h-5zM1521 924h5v5h-5zM1524 943h5v5h-5zM1525 946h5v5h-5zM1532 931h5v5h-5zM1533 944h5v5h-5zM1535 929h5v5h-5zM1537 939h5v5h-5zM1539 922h5v5h-5zM1540 942h5v5h-5zM1541 918h5v5h-5zM1544 948h5v5h-5zM1548 940h5v5h-5zM1561 946h5v5h-5zM1562 950h5v5h-5zM1566 936h5v5h-5zM1569 945h5v5h-5zM1574 949h5v5h-5zM1580 946h5v5h-5zM1052 570h5v5h-5zM1053 572h5v5h-5zM1055 567h5v5h-5z"/><path fill="#ff00ff" clip-path="url(#iclip)" d="M862 581h5v5h-5zM863 585h5v5h-5zM864 584h5v5h-5zM866 600h5v5h-5zM867 579h5v5h-5zM868 585h5v5h-5zM869 595h5v5h-5zM870 584h5v5h-5zM871 582h5v5h-5zM873 579h5v5h-5zM874 591h5v5h-5zM875 576h5v5h-5zM876 586h5v5h-5zM877 572h5v5h-5zM878 586h5v5h-5zM880 581h5v5h-5zM881 587h5v5h-5zM882 591h5v5h-5zM883 579h5v5h-5zM884 580h5v5h-5zM885 576h5v5h-5zM887 580h5v5h-5zM888 588h5v5h-5zM889 594h5v5h-5zM890 589h5v5h-5zM891 589h5v5h-5zM892 590h5v5h-5zM894 582h5v5h-5zM895 584h5v5h-5zM896 587h5v5h-5zM897 585h5v5h-5zM898 587h5v5h-5zM900 585h5v5h-5zM901 582h5v5h-5zM902 581h5v5h-5zM903 591h5v5h-5zM904 595h5v5h-5zM905 579h5v5h-5zM907 587h5v5h-5zM908 581h5v5h-5zM909 597h5v5h-5zM910 590h5v5h-5zM911 588h5v5h-5zM912 596h5v5h-5zM914 591h5v5h-5zM915 584h5v5h-5zM916 582h5v5h-5zM917 580h5v5h-5zM918 594h5v5h-5zM919 597h5v5h-5zM921 586h5v5h-5zM922 584h5v5h-5zM923 588h5v5h-5zM924 597h5v5h-5zM925 585h5v5h-5zM926 585h5v5h-5zM928 587h5v5h-5zM929 593h5v5h-5zM930 588h5v5h-5zM931 586h5v5h-5zM932 593h5v5h-5zM933 601h5v5h-5zM935 589h5v5h-5zM936 588h5v5h-5zM937 591h5v5h-5zM938 586h5v5h-5zM939 594h5v5h-5zM940 592h5v5h-5zM942 593h5v5h-5zM943 588h5v5h-5zM944 582h5v5h-5zM945 593h5v5h-5zM946 580h5v5h-5zM948 583h5v5h-5zM949 587h5v5h-5zM950 589h5v5h-5zM951 582h5v5h-5zM952 593h5v5h-5zM953 593h5v5h-5zM955 599h5v5h-5zM956 590h5v5h-5zM957 585h5v5h-5zM958 590h5v5h-5zM959 591h5v5h-5zM960 594h5v5h-5zM962 592h5v5h-5zM963 602h5v5h-5zM964 587h5v5h-5zM965 596h5v5h-5zM966 600h5v5h-5zM967 598h5v5h-5zM969 599h5v5h-5zM970 589h5v5h-5zM971 588h5v5h-5zM972 602h5v5h-5zM973 589h5v5h-5zM974 589h5v5h-5zM976 598h5v5h-5zM977 604h5v5h-5zM978 599h5v5h-5zM979 599h5v5h-5zM980 593h5v5h-5zM981 597h5v5h-5zM983 607h5v5h-5zM984 594h5v5h-5zM985 605h5v5h-5zM986 590h5v5h-5zM987 603h5v5h-5zM988 600h5v5h-5zM990 601h5v5h-5zM991 599h5v5h-5zM992 589h5v5h-5zM993 591h5v5h-5zM994 593h5v5h-5zM996 595h5v5h-5zM997 606h5v5h-5zM998 600h5v5h-5zM999 601h5v5h-5zM1000 604h5v5h-5zM1001 595h5v5h-5zM1003 603h5v5h-5zM1004 603h5v5h-5zM1005 606h5v5h-5zM1006 612h5v5h-5zM1007 597h5v5h-5zM1008 592h5v5h-5zM1010 600h5v5h-5zM1011 607h5v5h-5zM1012 618h5v5h-5zM1013 601h5v5h-5zM1014 595h5v5h-5zM1015 601h5v5h-5zM1017 597h5v5h-5zM1018 594h5v5h-5zM1019 597h5v5h-5zM1020 607h5v5h-5zM1021 598h5v5h-5zM1022 600h5v5h-5zM1024 615h5v5h-5zM1025 608h5v5h-5zM1026 615h5v5h-5zM1027 607h5v5h-5zM1028 603h5v5h-5zM1029 613h5v5h-5zM1031 620h5v5h-5zM1032 599h5v5h-5zM1033 605h5v5h-5zM1034 599h5v5h-5zM1035 616h5v5h-5zM1037 602h5v5h-5zM1038 596h5v5h-5zM1039 597h5v5h-5zM1040 611h5v5h-5zM1041 608h5v5h-5zM1042 611h5v5h-5zM1044 604h5v5h-5zM1045 604h5v5h-5zM1046 610h5v5h-5zM1047 619h5v5h-5zM1048 607h5v5h-5zM1049 614h5v5h-5zM1051 608h5v5h-5zM1052 610h5v5h-5zM1053 602h5v5h-5zM1054 605h5v5h-5zM1055 616h5v5h-5zM1056 611h5v5h-5zM1058 602h5v5h-5zM1059 617h5v5h-5zM1060 611h5v5h-5zM1061 607h5v5h-5zM1062 607h5v5h-5zM1063 611h5v5h-5zM1065 623h5v5h-5zM1066 623h5v5h-5zM1067 614h5v5h-5zM1068 613h5v5h-5zM1069 600h5v5h-5zM1070 622h5v5h-5zM1072 609h5v5h-5zM1073 612h5v5h-5zM1074 627h5v5h-5zM1075 622h5v5h-5zM1076 616h5v5h-5zM1077 620h5v5h-5zM1079 618h5v5h-5zM1080 614h5v5h-5zM1081 623h5v5h-5zM1082 615h5v5h-5zM1083 622h5v5h-5zM1085 622h5v5h-5zM1086 615h5v5h-5zM1087 622h5v5h-5zM1088 617h5v5h-5zM1089 608h5v5h-5zM1090 619h5v5h-5zM1092 620h5v5h-5zM1093 614h5v5h-5zM1094 622h5v5h-5zM1095 613h5v5h-5zM1096 628h5v5h-5zM1097 616h5v5h-5zM1099 623h5v5h-5zM1100 625h5v5h-5zM1101 609h5v5h-5zM1102 626h5v5h-5zM1103 609h5v5h-5zM1104 617h5v5h-5zM1106 612h5v5h-5zM1107 628h5v5h-5zM1108 614h5v5h-5zM1109 612h5v5h-5zM1110 622h5v5h-5zM1111 623h5v5h-5zM1113 606h5v5h-5zM1114 621h5v5h-5zM1115 625h5v5h-5zM1116 627h5v5h-5zM1117 621h5v5h-5zM1118 622h5v5h-5zM1120 623h5v5h-5zM1121 613h5v5h-5zM1122 627h5v5h-5zM1123 622h5v5h-5zM1124 616h5v5h-5zM1126 633h5v5h-5zM1127 620h5v5h-5zM1128 615h5v5h-5zM1129 637h5v5h-5zM1130 635h5v5h-5zM1131 635h5v5h-5zM1133 641h5v5h-5zM1134 626h5v5h-5zM1135 642h5v5h-5zM1136 627h5v5h-5zM1137 621h5v5h-5zM1138 642h5v5h-5zM1140 634h5v5h-5zM1141 645h5v5h-5zM1142 627h5v5h-5zM1143 638h5v5h-5zM1144 635h5v5h-5zM1145 633h5v5h-5zM1147 630h5v5h-5zM1148 637h5v5h-5zM1149 635h5v5h-5zM1150 639h5v5h-5zM1151 635h5v5h-5zM1152 643h5v5h-5zM1154 636h5v5h-5zM1155 649h5v5h-5zM1156 640h5v5h-5zM1157 624h5v5h-5zM1158 637h5v5h-5zM1159 646h5v5h-5zM1161 637h5v5h-5zM1162 646h5v5h-5zM1163 651h5v5h-5zM1164 645h5v5h-5zM1165 636h5v5h-5zM1166 639h5v5h-5zM1168 643h5v5h-5zM1169 650h5v5h-5zM1170 651h5v5h-5zM1171 636h5v5h-5zM1172 644h5v5h-5zM1174 653h5v5h-5zM1175 661h5v5h-5zM1176 657h5v5h-5zM1177 631h5v5h-5zM1178 656h5v5h-5zM1179 649h5v5h-5zM1181 648h5v5h-5zM1182 651h5v5h-5zM1183 652h5v5h-5zM1184 660h5v5h-5zM1185 658h5v5h-5zM1186 640h5v5h-5zM1188 657h5v5h-5zM1189 647h5v5h-5zM1190 665h5v5h-5zM1191 656h5v5h-5zM1192 652h5v5h-5zM1193 647h5v5h-5zM1195 663h5v5h-5zM1196 651h5v5h-5zM1197 653h5v5h-5zM1198 662h5v5h-5zM1199 654h5v5h-5zM1200 664h5v5h-5zM1202 664h5v5h-5zM1203 659h5v5h-5zM1204 679h5v5h-5zM1205 660h5v5h-5zM1206 667h5v5h-5zM1207 671h5v5h-5zM1209 664h5v5h-5zM1210 656h5v5h-5zM1211 665h5v5h-5zM1212 653h5v5h-5zM1213 672h5v5h-5zM1214 674h5v5h-5zM1216 653h5v5h-5zM1217 662h5v5h-5zM1218 659h5v5h-5zM1219 673h5v5h-5zM1220 661h5v5h-5zM1222 666h5v5h-5zM1223 664h5v5h-5zM1224 669h5v5h-5zM1225 661h5v5h-5zM1226 676h5v5h-5zM1227 679h5v5h-5zM1229 684h5v5h-5zM1230 663h5v5h-5zM1231 679h5v5h-5zM1232 682h5v5h-5zM1233 682h5v5h-5zM1234 679h5v5h-5zM1236 686h5v5h-5zM1237 679h5v5h-5zM1238 682h5v5h-5zM1239 682h5v5h-5zM1240 686h5v5h-5zM1241 678h5v5h-5zM1243 683h5v5h-5zM1244 679h5v5h-5zM1245 678h5v5h-5zM1246 678h5v5h-5zM1247 700h5v5h-5zM1248 687h5v5h-5zM1250 690h5v5h-5zM1251 677h5v5h-5zM1252 698h5v5h-5zM1253 691h5v5h-5zM1254 688h5v5h-5zM1255 689h5v5h-5zM1257 677h5v5h-5zM1258 691h5v5h-5zM1259 679h5v5h-5zM1260 701h5v5h-5zM1261 705h5v5h-5zM1263 678h5v5h-5zM1264 687h5v5h-5zM1265 687h5v5h-5zM1266 691h5v5h-5zM1267 689h5v5h-5zM1268 706h5v5h-5zM1270 687h5v5h-5zM1271 701h5v5h-5zM1272 688h5v5h-5zM1273 697h5v5h-5zM1274 718h5v5h-5zM1275 712h5v5h-5zM1277 691h5v5h-5zM1278 703h5v5h-5zM1279 707h5v5h-5zM1280 702h5v5h-5zM1281 709h5v5h-5zM1282 711h5v5h-5zM1284 706h5v5h-5zM1285 707h5v5h-5zM1286 694h5v5h-5zM1287 710h5v5h-5zM1288 693h5v5h-5zM1289 695h5v5h-5zM1291 697h5v5h-5zM1292 705h5v5h-5zM1293 715h5v5h-5zM1294 717h5v5h-5zM1295 721h5v5h-5zM1296 728h5v5h-5zM1298 723h5v5h-5zM1299 730h5v5h-5zM1300 708h5v5h-5zM1301 721h5v5h-5zM1302 732h5v5h-5zM1303 748h5v5h-5zM1305 731h5v5h-5zM1306 736h5v5h-5zM1307 744h5v5h-5zM1308 746h5v5h-5zM1309 759h5v5h-5zM1311 731h5v5h-5zM1312 739h5v5h-5zM1313 712h5v5h-5zM1314 741h5v5h-5zM1315 744h5v5h-5zM1316 728h5v5h-5zM1318 743h5v5h-5zM1319 744h5v5h-5zM1320 751h5v5h-5zM1321 755h5v5h-5zM1322 733h5v5h-5zM1323 739h5v5h-5zM1325 733h5v5h-5zM1326 757h5v5h-5zM1327 754h5v5h-5zM1328 765h5v5h-5zM1329 745h5v5h-5zM1330 773h5v5h-5zM1332 752h5v5h-5zM1333 746h5v5h-5zM1334 744h5v5h-5zM1335 773h5v5h-5zM1336 750h5v5h-5zM1337 773h5v5h-5zM1339 775h5v5h-5zM1340 783h5v5h-5zM1341 753h5v5h-5zM1342 747h5v5h-5zM1343 777h5v5h-5zM1344 781h5v5h-5zM1346 776h5v5h-5zM1347 740h5v5h-5zM1348 761h5v5h-5zM1349 783h5v5h-5zM1350 801h5v5h-5zM1352 787h5v5h-5zM1353 762h5v5h-5zM1354 754h5v5h-5zM1355 785h5v5h-5zM1356 792h5v5h-5zM1357 791h5v5h-5zM1359 812h5v5h-5zM1360 773h5v5h-5zM1361 803h5v5h-5zM1362 773h5v5h-5zM1363 815h5v5h-5zM1364 809h5v5h-5zM1366 787h5v5h-5zM1367 804h5v5h-5zM1368 782h5v5h-5zM1369 795h5v5h-5zM1370 815h5v5h-5zM1371 788h5v5h-5zM1373 785h5v5h-5zM1374 830h5v5h-5zM1375 772h5v5h-5zM1376 794h5v5h-5zM1377 791h5v5h-5zM1378 835h5v5h-5zM1380 817h5v5h-5zM1381 812h5v5h-5zM1382 790h5v5h-5zM1383 833h5v5h-5zM1384 825h5v5h-5zM1385 845h5v5h-5zM1387 816h5v5h-5zM1388 807h5v5h-5zM1389 843h5v5h-5zM1390 826h5v5h-5zM1391 808h5v5h-5zM1392 790h5v5h-5zM1394 807h5v5h-5zM1395 825h5v5h-5zM1396 842h5v5h-5zM1397 839h5v5h-5zM1398 835h5v5h-5zM1400 822h5v5h-5zM1401 826h5v5h-5zM1402 797h5v5h-5zM1403 822h5v5h-5zM1404 847h5v5h-5zM1405 801h5v5h-5zM1407 812h5v5h-5zM1408 828h5v5h-5zM1409 844h5v5h-5zM1410 865h5v5h-5zM1411 851h5v5h-5zM1412 816h5v5h-5zM1414 848h5v5h-5zM1415 859h5v5h-5zM1416 832h5v5h-5zM1417 831h5v5h-5zM1418 825h5v5h-5zM1419 825h5v5h-5zM1421 812h5v5h-5zM1422 855h5v5h-5zM1423 821h5v5h-5zM1424 859h5v5h-5zM1425 828h5v5h-5zM1426 838h5v5h-5zM1428 838h5v5h-5zM1429 825h5v5h-5zM1430 844h5v5h-5zM1431 824h5v5h-5zM1432 829h5v5h-5zM1433 844h5v5h-5zM1435 858h5v5h-5zM1436 862h5v5h-5zM1437 859h5v5h-5zM1438 853h5v5h-5zM1439 850h5v5h-5zM1440 793h5v5h-5zM1442 839h5v5h-5zM1443 837h5v5h-5zM1444 870h5v5h-5zM1445 867h5v5h-5zM1446 860h5v5h-5zM1448 851h5v5h-5zM1449 876h5v5h-5zM1450 824h5v5h-5zM1451 867h5v5h-5zM1452 835h5v5h-5zM1453 904h5v5h-5zM1455 858h5v5h-5zM1456 853h5v5h-5zM1457 855h5v5h-5zM1458 847h5v5h-5zM1459 855h5v5h-5zM1460 857h5v5h-5zM1462 900h5v5h-5zM1463 876h5v5h-5zM1464 910h5v5h-5zM1465 850h5v5h-5zM1466 857h5v5h-5zM1467 868h5v5h-5zM1469 882h5v5h-5zM1470 877h5v5h-5zM1471 828h5v5h-5zM1472 830h5v5h-5zM1473 868h5v5h-5zM1474 841h5v5h-5zM1476 901h5v5h-5zM1477 909h5v5h-5zM1478 879h5v5h-5zM1479 888h5v5h-5zM1480 882h5v5h-5zM1481 867h5v5h-5zM1483 808h5v5h-5zM1484 887h5v5h-5zM1485 873h5v5h-5zM1486 869h5v5h-5zM1487 877h5v5h-5zM1489 857h5v5h-5zM1490 839h5v5h-5zM1491 905h5v5h-5zM1492 876h5v5h-5zM1493 886h5v5h-5zM1494 873h5v5h-5zM1496 915h5v5h-5zM1497 921h5v5h-5zM1498 934h5v5h-5zM1499 873h5v5h-5zM1500 881h5v5h-5zM1501 885h5v5h-5zM1503 940h5v5h-5zM1504 897h5v5h-5zM1505 906h5v5h-5zM1506 921h5v5h-5zM1507 911h5v5h-5zM1508 876h5v5h-5zM1510 880h5v5h-5zM1511 893h5v5h-5zM1512 882h5v5h-5zM1513 908h5v5h-5zM1514 893h5v5h-5zM1515 895h5v5h-5zM1517 884h5v5h-5zM1518 899h5v5h-5zM1519 901h5v5h-5zM1520 902h5v5h-5zM1521 914h5v5h-5zM1522 849h5v5h-5zM1524 889h5v5h-5zM1525 892h5v5h-5zM1526 849h5v5h-5zM1527 870h5v5h-5zM1528 939h5v5h-5zM1529 888h5v5h-5zM1531 885h5v5h-5zM1532 862h5v5h-5zM1533 876h5v5h-5zM1534 889h5v5h-5zM1535 935h5v5h-5zM1537 929h5v5h-5zM1538 903h5v5h-5zM1539 898h5v5h-5zM1540 935h5v5h-5zM1541 920h5v5h-5zM1542 922h5v5h-5zM1544 911h5v5h-5zM1545 906h5v5h-5zM1546 921h5v5h-5zM1547 945h5v5h-5zM1548 886h5v5h-5zM1549 879h5v5h-5zM1551 920h5v5h-5zM1552 894h5v5h-5zM1553 908h5v5h-5zM1554 904h5v5h-5zM1555 909h5v5h-5zM1556 940h5v5h-5zM1558 908h5v5h-5zM1559 898h5v5h-5zM1560 946h5v5h-5zM1561 877h5v5h-5zM1562 874h5v5h-5zM1563 881h5v5h-5zM1565 878h5v5h-5zM1566 909h5v5h-5zM1567 937h5v5h-5zM1568 944h5v5h-5zM1569 950h5v5h-5zM1570 928h5v5h-5zM1572 932h5v5h-5zM1573 916h5v5h-5zM1575 876h5v5h-5zM1576 878h5v5h-5zM1577 936h5v5h-5zM1579 919h5v5h-5zM1580 925h5v5h-5zM1581 930h5v5h-5zM1582 943h5v5h-5zM1583 941h5v5h-5zM1586 934h5v5h-5zM1587 939h5v5h-5z"/><path fill="#ff0000" clip-path="url(#iclip)" d="M862 577h5v5h-5zM863 579h5v5h-5zM864 578h5v5h-5zM866 578h5v5h-5zM867 576h5v5h-5zM868 579h5v5h-5zM869 576h5v5h-5zM870 575h5v5h-5zM871 576h5v5h-5zM873 577h5v5h-5zM874 577h5v5h-5zM875 577h5v5h-5zM876 575h5v5h-5zM877 573h5v5h-5zM878 576h5v5h-5zM880 577h5v5h-5zM881 575h5v5h-5zM882 575h5v5h-5zM883 577h5v5h-5zM884 576h5v5h-5zM885 575h5v5h-5zM887 573h5v5h-5zM888 576h5v5h-5zM889 576h5v5h-5zM890 573h5v5h-5zM891 576h5v5h-5zM892 573h5v5h-5zM894 572h5v5h-5zM895 573h5v5h-5zM896 574h5v5h-5zM897 572h5v5h-5zM898 572h5v5h-5zM900 571h5v5h-5zM901 572h5v5h-5zM902 569h5v5h-5zM903 573h5v5h-5zM904 570h5v5h-5zM905 569h5v5h-5zM907 567h5v5h-5zM908 570h5v5h-5zM909 567h5v5h-5zM910 569h5v5h-5zM911 566h5v5h-5zM912 564h5v5h-5zM914 567h5v5h-5zM915 565h5v5h-5zM916 567h5v5h-5zM917 563h5v5h-5zM918 562h5v5h-5zM919 564h5v5h-5zM921 565h5v5h-5zM922 562h5v5h-5zM923 560h5v5h-5zM924 560h5v5h-5zM925 560h5v5h-5zM926 563h5v5h-5zM928 561h5v5h-5zM929 556h5v5h-5zM930 560h5v5h-5zM931 555h5v5h-5zM932 553h5v5h-5zM933 554h5v5h-5zM935 553h5v5h-5zM936 555h5v5h-5zM937 555h5v5h-5zM938 553h5v5h-5zM939 552h5v5h-5zM940 551h5v5h-5zM942 549h5v5h-5zM943 549h5v5h-5zM944 548h5v5h-5zM945 547h5v5h-5zM946 547h5v5h-5zM948 543h5v5h-5zM949 545h5v5h-5zM950 544h5v5h-5zM951 544h5v5h-5zM952 544h5v5h-5zM953 540h5v5h-5zM955 541h5v5h-5zM956 542h5v5h-5zM957 541h5v5h-5zM958 539h5v5h-5zM959 539h5v5h-5zM960 536h5v5h-5zM962 538h5v5h-5zM963 534h5v5h-5zM964 534h5v5h-5zM965 535h5v5h-5zM966 532h5v5h-5zM967 531h5v5h-5zM969 529h5v5h-5zM970 530h5v5h-5zM971 527h5v5h-5zM972 530h5v5h-5zM973 528h5v5h-5zM974 524h5v5h-5zM976 523h5v5h-5zM977 524h5v5h-5zM978 524h5v5h-5zM979 521h5v5h-5zM980 525h5v5h-5zM981 522h5v5h-5zM983 519h5v5h-5zM984 518h5v5h-5zM985 521h5v5h-5zM986 521h5v5h-5zM987 515h5v5h-5zM988 516h5v5h-5zM990 517h5v5h-5zM991 515h5v5h-5zM992 513h5v5h-5zM993 518h5v5h-5zM994 512h5v5h-5zM996 512h5v5h-5zM997 517h5v5h-5zM998 512h5v5h-5zM999 516h5v5h-5zM1000 511h5v5h-5zM1001 513h5v5h-5zM1003 510h5v5h-5zM1004 515h5v5h-5zM1005 514h5v5h-5zM1006 513h5v5h-5zM1007 516h5v5h-5zM1008 517h5v5h-5zM1010 516h5v5h-5zM1011 516h5v5h-5zM1012 518h5v5h-5zM1013 516h5v5h-5zM1014 516h5v5h-5zM1015 517h5v5h-5zM1017 515h5v5h-5zM1018 519h5v5h-5zM1019 516h5v5h-5zM1020 520h5v5h-5zM1021 518h5v5h-5zM1022 523h5v5h-5zM1024 520h5v5h-5zM1025 521h5v5h-5zM1026 522h5v5h-5zM1027 523h5v5h-5zM1028 523h5v5h-5zM1029 524h5v5h-5zM1031 528h5v5h-5zM1032 525h5v5h-5zM1033 526h5v5h-5zM1034 526h5v5h-5zM1035 528h5v5h-5zM1037 527h5v5h-5zM1038 525h5v5h-5zM1039 529h5v5h-5zM1040 530h5v5h-5zM1041 528h5v5h-5zM1042 530h5v5h-5zM1044 532h5v5h-5zM1045 533h5v5h-5zM1046 537h5v5h-5zM1047 538h5v5h-5zM1048 538h5v5h-5zM1049 542h5v5h-5zM1051 543h5v5h-5zM1052 544h5v5h-5zM1053 546h5v5h-5zM1054 549h5v5h-5zM1055 549h5v5h-5zM1056 553h5v5h-5zM1058 553h5v5h-5zM1059 555h5v5h-5zM1060 558h5v5h-5zM1061 560h5v5h-5zM1062 566h5v5h-5zM1063 569h5v5h-5zM1065 570h5v5h-5zM1066 570h5v5h-5zM1067 570h5v5h-5zM1068 577h5v5h-5zM1069 576h5v5h-5zM1070 580h5v5h-5zM1072 581h5v5h-5zM1073 582h5v5h-5zM1074 581h5v5h-5zM1075 584h5v5h-5zM1076 584h5v5h-5zM1077 592h5v5h-5zM1079 591h5v5h-5zM1080 593h5v5h-5zM1081 598h5v5h-5zM1082 600h5v5h-5zM1083 606h5v5h-5zM1085 610h5v5h-5zM1086 611h5v5h-5zM1087 614h5v5h-5zM1088 606h5v5h-5zM1089 618h5v5h-5zM1090 614h5v5h-5zM1092 621h5v5h-5zM1093 623h5v5h-5zM1094 624h5v5h-5zM1095 631h5v5h-5zM1096 628h5v5h-5zM1097 631h5v5h-5zM1099 639h5v5h-5zM1100 634h5v5h-5zM1101 636h5v5h-5zM1102 638h5v5h-5zM1103 636h5v5h-5zM1104 645h5v5h-5zM1106 644h5v5h-5zM1107 645h5v5h-5zM1108 652h5v5h-5zM1109 647h5v5h-5zM1110 659h5v5h-5zM1111 661h5v5h-5zM1113 656h5v5h-5zM1114 665h5v5h-5zM1115 663h5v5h-5zM1116 672h5v5h-5zM1117 667h5v5h-5zM1118 675h5v5h-5zM1120 671h5v5h-5zM1121 681h5v5h-5zM1122 675h5v5h-5zM1123 680h5v5h-5zM1124 680h5v5h-5zM1126 683h5v5h-5zM1127 684h5v5h-5zM1128 693h5v5h-5zM1129 701h5v5h-5zM1130 691h5v5h-5zM1131 697h5v5h-5zM1133 697h5v5h-5zM1134 695h5v5h-5zM1135 709h5v5h-5zM1136 705h5v5h-5zM1137 706h5v5h-5zM1138 710h5v5h-5zM1140 705h5v5h-5zM1141 710h5v5h-5zM1142 715h5v5h-5zM1143 718h5v5h-5zM1144 710h5v5h-5zM1145 720h5v5h-5zM1147 715h5v5h-5zM1148 717h5v5h-5zM1149 732h5v5h-5zM1150 729h5v5h-5zM1151 724h5v5h-5zM1152 724h5v5h-5zM1154 723h5v5h-5zM1155 724h5v5h-5zM1156 724h5v5h-5zM1157 734h5v5h-5zM1158 735h5v5h-5zM1159 730h5v5h-5zM1161 739h5v5h-5zM1162 731h5v5h-5zM1163 751h5v5h-5zM1164 737h5v5h-5zM1165 745h5v5h-5zM1166 760h5v5h-5zM1168 741h5v5h-5zM1169 748h5v5h-5zM1170 752h5v5h-5zM1171 763h5v5h-5zM1172 760h5v5h-5zM1174 747h5v5h-5zM1175 767h5v5h-5zM1176 790h5v5h-5zM1177 771h5v5h-5zM1178 776h5v5h-5zM1179 769h5v5h-5zM1181 773h5v5h-5zM1182 780h5v5h-5zM1183 781h5v5h-5zM1184 767h5v5h-5zM1185 790h5v5h-5zM1186 762h5v5h-5zM1188 786h5v5h-5zM1189 792h5v5h-5zM1190 777h5v5h-5zM1191 781h5v5h-5zM1192 797h5v5h-5zM1193 782h5v5h-5zM1195 808h5v5h-5zM1196 801h5v5h-5zM1197 783h5v5h-5zM1198 798h5v5h-5zM1199 810h5v5h-5zM1200 793h5v5h-5zM1202 791h5v5h-5zM1203 802h5v5h-5zM1204 821h5v5h-5zM1205 808h5v5h-5zM1206 802h5v5h-5zM1207 800h5v5h-5zM1209 790h5v5h-5zM1210 814h5v5h-5zM1211 818h5v5h-5zM1212 815h5v5h-5zM1213 803h5v5h-5zM1214 828h5v5h-5zM1216 805h5v5h-5zM1217 852h5v5h-5zM1218 814h5v5h-5zM1219 833h5v5h-5zM1220 821h5v5h-5zM1222 820h5v5h-5zM1223 844h5v5h-5zM1224 833h5v5h-5zM1225 831h5v5h-5zM1226 828h5v5h-5zM1227 848h5v5h-5zM1229 851h5v5h-5zM1230 864h5v5h-5zM1231 811h5v5h-5zM1232 846h5v5h-5zM1233 848h5v5h-5zM1234 866h5v5h-5zM1236 837h5v5h-5zM1237 857h5v5h-5zM1238 833h5v5h-5zM1239 843h5v5h-5zM1240 855h5v5h-5zM1241 847h5v5h-5zM1243 873h5v5h-5zM1244 864h5v5h-5zM1245 870h5v5h-5zM1246 881h5v5h-5zM1247 865h5v5h-5zM1248 869h5v5h-5zM1250 848h5v5h-5zM1251 917h5v5h-5zM1252 881h5v5h-5zM1253 886h5v5h-5zM1254 881h5v5h-5zM1255 870h5v5h-5zM1257 872h5v5h-5zM1258 878h5v5h-5zM1259 887h5v5h-5zM1260 874h5v5h-5zM1261 878h5v5h-5zM1263 911h5v5h-5zM1264 890h5v5h-5zM1265 907h5v5h-5zM1266 906h5v5h-5zM1267 888h5v5h-5zM1268 891h5v5h-5zM1270 891h5v5h-5zM1271 907h5v5h-5zM1272 899h5v5h-5zM1273 911h5v5h-5zM1274 893h5v5h-5zM1275 890h5v5h-5zM1277 875h5v5h-5zM1278 883h5v5h-5zM1279 916h5v5h-5zM1280 911h5v5h-5zM1281 920h5v5h-5zM1282 902h5v5h-5zM1284 877h5v5h-5zM1285 898h5v5h-5zM1286 943h5v5h-5zM1287 930h5v5h-5zM1288 931h5v5h-5zM1289 904h5v5h-5zM1291 913h5v5h-5zM1292 910h5v5h-5zM1293 888h5v5h-5zM1294 929h5v5h-5zM1295 931h5v5h-5zM1296 888h5v5h-5zM1298 914h5v5h-5zM1299 933h5v5h-5zM1301 946h5v5h-5zM1303 923h5v5h-5zM1305 925h5v5h-5zM1306 911h5v5h-5zM1307 929h5v5h-5zM1308 939h5v5h-5zM1309 941h5v5h-5zM1311 900h5v5h-5zM1313 930h5v5h-5zM1314 933h5v5h-5zM1315 925h5v5h-5zM1316 942h5v5h-5zM1318 929h5v5h-5zM1319 925h5v5h-5zM1320 942h5v5h-5zM1321 948h5v5h-5zM1322 944h5v5h-5zM1325 947h5v5h-5zM1326 949h5v5h-5zM1327 942h5v5h-5zM1328 925h5v5h-5zM1329 927h5v5h-5zM1332 941h5v5h-5zM1333 948h5v5h-5zM1334 942h5v5h-5zM1340 948h5v5h-5zM1341 942h5v5h-5zM1357 946h5v5h-5zM1050 536h5v5h-5zM1051 533h5v5h-5zM1051 531h5v5h-5zM1052 528h5v5h-5zM1053 525h5v5h-5zM1053 536h5v5h-5zM1054 533h5v5h-5zM1055 531h5v5h-5zM1127 681h5v5h-5zM1129 682h5v5h-5zM1131 689h5v5h-5zM1134 704h5v5h-5zM1136 703h5v5h-5zM1139 702h5v5h-5zM1141 707h5v5h-5zM1143 718h5v5h-5zM1146 722h5v5h-5zM1148 715h5v5h-5zM1151 731h5v5h-5zM1153 718h5v5h-5zM1156 730h5v5h-5zM1158 731h5v5h-5zM1160 745h5v5h-5zM1163 744h5v5h-5zM1165 739h5v5h-5zM1168 758h5v5h-5zM1170 738h5v5h-5zM1173 767h5v5h-5zM1175 770h5v5h-5zM1177 765h5v5h-5zM1180 765h5v5h-5zM1182 767h5v5h-5zM1185 780h5v5h-5zM1187 782h5v5h-5zM1189 786h5v5h-5zM1192 792h5v5h-5zM1194 813h5v5h-5zM1197 785h5v5h-5zM1199 794h5v5h-5zM1202 798h5v5h-5zM1204 809h5v5h-5zM1206 804h5v5h-5zM1209 810h5v5h-5zM1211 814h5v5h-5zM1214 805h5v5h-5zM1216 839h5v5h-5zM1219 821h5v5h-5zM1221 839h5v5h-5zM1223 835h5v5h-5zM1226 817h5v5h-5zM1228 851h5v5h-5zM1231 843h5v5h-5zM1233 852h5v5h-5zM1235 837h5v5h-5zM1238 864h5v5h-5zM1240 876h5v5h-5zM1243 852h5v5h-5zM1245 867h5v5h-5zM1248 870h5v5h-5zM1250 854h5v5h-5zM1252 884h5v5h-5zM1255 880h5v5h-5zM1257 876h5v5h-5zM1260 875h5v5h-5zM1262 891h5v5h-5zM1265 872h5v5h-5zM1267 858h5v5h-5zM1269 898h5v5h-5zM1272 869h5v5h-5zM1274 929h5v5h-5zM1277 881h5v5h-5zM1279 909h5v5h-5zM1281 904h5v5h-5zM1284 913h5v5h-5zM1286 919h5v5h-5zM1289 931h5v5h-5zM1291 920h5v5h-5zM1294 897h5v5h-5zM1296 901h5v5h-5zM1298 925h5v5h-5zM1301 930h5v5h-5zM1303 935h5v5h-5zM1306 944h5v5h-5zM1308 901h5v5h-5zM1311 920h5v5h-5zM1313 931h5v5h-5zM1315 943h5v5h-5zM1320 919h5v5h-5zM1323 929h5v5h-5zM1327 931h5v5h-5zM1332 942h5v5h-5z"/><rect x="865.00" y="493.20" width="5.10" height="460.00" fill="#000"/><rect x="1584.30" y="493.20" width="3.40" height="465.20" fill="#000"/><rect x="865.00" y="493.20" width="722.70" height="2.80" fill="#000"/><rect x="865.00" y="946.20" width="722.70" height="3.80" fill="#000"/><rect x="855.30" y="492.45" width="12.30" height="4.60" fill="#000"/><rect x="1573.90" y="493.15" width="12.10" height="3.20" fill="#000"/><rect x="860.40" y="510.78" width="7.20" height="4.20" fill="#000"/><rect x="1579.40" y="511.48" width="6.60" height="2.80" fill="#000"/><rect x="860.40" y="528.91" width="7.20" height="4.20" fill="#000"/><rect x="1579.40" y="529.61" width="6.60" height="2.80" fill="#000"/><rect x="860.40" y="547.04" width="7.20" height="4.20" fill="#000"/><rect x="1579.40" y="547.74" width="6.60" height="2.80" fill="#000"/><rect x="860.40" y="565.17" width="7.20" height="4.20" fill="#000"/><rect x="1579.40" y="565.87" width="6.60" height="2.80" fill="#000"/><rect x="855.30" y="583.10" width="12.30" height="4.60" fill="#000"/><rect x="1573.90" y="583.80" width="12.10" height="3.20" fill="#000"/><rect x="860.40" y="601.43" width="7.20" height="4.20" fill="#000"/><rect x="1579.40" y="602.13" width="6.60" height="2.80" fill="#000"/><rect x="860.40" y="619.56" width="7.20" height="4.20" fill="#000"/><rect x="1579.40" y="620.26" width="6.60" height="2.80" fill="#000"/><rect x="860.40" y="637.69" width="7.20" height="4.20" fill="#000"/><rect x="1579.40" y="638.39" width="6.60" height="2.80" fill="#000"/><rect x="860.40" y="655.82" width="7.20" height="4.20" fill="#000"/><rect x="1579.40" y="656.52" width="6.60" height="2.80" fill="#000"/><rect x="855.30" y="673.75" width="12.30" height="4.60" fill="#000"/><rect x="1573.90" y="674.45" width="12.10" height="3.20" fill="#000"/><rect x="860.40" y="692.08" width="7.20" height="4.20" fill="#000"/><rect x="1579.40" y="692.78" width="6.60" height="2.80" fill="#000"/><rect x="860.40" y="710.21" width="7.20" height="4.20" fill="#000"/><rect x="1579.40" y="710.91" width="6.60" height="2.80" fill="#000"/><rect x="860.40" y="728.34" width="7.20" height="4.20" fill="#000"/><rect x="1579.40" y="729.04" width="6.60" height="2.80" fill="#000"/><rect x="860.40" y="746.47" width="7.20" height="4.20" fill="#000"/><rect x="1579.40" y="747.17" width="6.60" height="2.80" fill="#000"/><rect x="855.30" y="764.40" width="12.30" height="4.60" fill="#000"/><rect x="1573.90" y="765.10" width="12.10" height="3.20" fill="#000"/><rect x="860.40" y="782.73" width="7.20" height="4.20" fill="#000"/><rect x="1579.40" y="783.43" width="6.60" height="2.80" fill="#000"/><rect x="860.40" y="800.86" width="7.20" height="4.20" fill="#000"/><rect x="1579.40" y="801.56" width="6.60" height="2.80" fill="#000"/><rect x="860.40" y="818.99" width="7.20" height="4.20" fill="#000"/><rect x="1579.40" y="819.69" width="6.60" height="2.80" fill="#000"/><rect x="860.40" y="837.12" width="7.20" height="4.20" fill="#000"/><rect x="1579.40" y="837.82" width="6.60" height="2.80" fill="#000"/><rect x="855.30" y="855.05" width="12.30" height="4.60" fill="#000"/><rect x="1573.90" y="855.75" width="12.10" height="3.20" fill="#000"/><rect x="860.40" y="873.38" width="7.20" height="4.20" fill="#000"/><rect x="1579.40" y="874.08" width="6.60" height="2.80" fill="#000"/><rect x="860.40" y="891.51" width="7.20" height="4.20" fill="#000"/><rect x="1579.40" y="892.21" width="6.60" height="2.80" fill="#000"/><rect x="860.40" y="909.64" width="7.20" height="4.20" fill="#000"/><rect x="1579.40" y="910.34" width="6.60" height="2.80" fill="#000"/><rect x="860.40" y="927.77" width="7.20" height="4.20" fill="#000"/><rect x="1579.40" y="928.47" width="6.60" height="2.80" fill="#000"/><rect x="855.30" y="945.70" width="12.30" height="4.60" fill="#000"/><rect x="1573.90" y="946.40" width="12.10" height="3.20" fill="#000"/><rect x="930.80" y="948.00" width="4.20" height="10.80" fill="#000"/><rect x="931.30" y="494.60" width="3.20" height="9.20" fill="#000"/><rect x="996.10" y="948.00" width="4.20" height="5.60" fill="#000"/><rect x="996.80" y="494.60" width="2.80" height="4.40" fill="#000"/><rect x="1061.40" y="948.00" width="4.20" height="10.80" fill="#000"/><rect x="1061.90" y="494.60" width="3.20" height="9.20" fill="#000"/><rect x="1126.70" y="948.00" width="4.20" height="5.60" fill="#000"/><rect x="1127.40" y="494.60" width="2.80" height="4.40" fill="#000"/><rect x="1192.00" y="948.00" width="4.20" height="10.80" fill="#000"/><rect x="1192.50" y="494.60" width="3.20" height="9.20" fill="#000"/><rect x="1257.30" y="948.00" width="4.20" height="5.60" fill="#000"/><rect x="1258.00" y="494.60" width="2.80" height="4.40" fill="#000"/><rect x="1322.60" y="948.00" width="4.20" height="10.80" fill="#000"/><rect x="1323.10" y="494.60" width="3.20" height="9.20" fill="#000"/><rect x="1387.90" y="948.00" width="4.20" height="5.60" fill="#000"/><rect x="1388.60" y="494.60" width="2.80" height="4.40" fill="#000"/><rect x="1453.20" y="948.00" width="4.20" height="10.80" fill="#000"/><rect x="1453.70" y="494.60" width="3.20" height="9.20" fill="#000"/><rect x="1518.50" y="948.00" width="4.20" height="5.60" fill="#000"/><rect x="1519.20" y="494.60" width="2.80" height="4.40" fill="#000"/><rect x="1583.80" y="948.00" width="4.20" height="10.80" fill="#000"/><rect x="1584.30" y="494.60" width="3.20" height="9.20" fill="#000"/><text transform="matrix(0.37920 0 0 0.31600 831.56 503.95)" font-family='"Liberation Serif", serif' font-size="100" fill="#000">5</text><text transform="matrix(0.37920 0 0 0.31600 831.46 594.60)" font-family='"Liberation Serif", serif' font-size="100" fill="#000">0</text><text transform="matrix(0.37920 0 0 0.31600 818.95 685.25)" font-family='"Liberation Serif", serif' font-size="100" fill="#000">-5</text><text transform="matrix(0.37920 0 0 0.31600 799.89 775.90)" font-family='"Liberation Serif", serif' font-size="100" fill="#000">-10</text><text transform="matrix(0.37920 0 0 0.31600 799.99 866.55)" font-family='"Liberation Serif", serif' font-size="100" fill="#000">-15</text><text transform="matrix(0.37920 0 0 0.31600 799.89 957.20)" font-family='"Liberation Serif", serif' font-size="100" fill="#000">-20</text><text transform="matrix(0.50250 0 0 0.37887 920.74 991.90)" font-family='"Liberation Serif", serif' font-size="100" fill="#000">2</text><text transform="matrix(0.43656 0 0 0.38327 1052.93 991.90)" font-family='"Liberation Serif", serif' font-size="100" fill="#000">4</text><text transform="matrix(0.45380 0 0 0.37026 1182.77 991.53)" font-family='"Liberation Serif", serif' font-size="100" fill="#000">6</text><text transform="matrix(0.40235 0 0 0.37037 1315.39 991.53)" font-family='"Liberation Serif", serif' font-size="100" fill="#000">8</text><text transform="matrix(0.43543 0 0 0.37185 1435.09 991.63)" font-family='"Liberation Serif", serif' font-size="100" fill="#000">10</text><text transform="matrix(0.44315 0 0 0.37887 1566.12 992.00)" font-family='"Liberation Serif", serif' font-size="100" fill="#000">12</text><text transform="matrix(0.44078 0 0 0.35603 1460.15 699.64)" font-family='"Liberation Serif", serif' font-size="100" fill="#000">-3dB</text><text transform="matrix(0.52414 0 0 0.47028 1135.48 1041.74)" font-family='"DejaVu Serif", serif' font-size="100" font-style="italic" stroke="#fff" stroke-width="2.4135" stroke-linejoin="round" fill="#000">f</text><text transform="matrix(0.62667 0 0 0.45437 1159.55 1042.16)" font-family='"Liberation Serif", serif' font-size="100" fill="#000">,</text><text transform="matrix(0.59835 0 0 0.49963 1188.71 1041.50)" font-family='"Liberation Serif", serif' font-size="100" fill="#000">GHz</text><text transform="matrix(0 -0.58480 0.50112 0 781.40 778.95)" font-family='"Liberation Serif", serif' font-size="100" fill="#000">S</text><text transform="matrix(0 -0.30950 0.27472 0 802.00 751.39)" font-family='"Liberation Serif", serif' font-size="100" fill="#000">21</text><text transform="matrix(0 -0.57333 0.37282 0 781.82 721.55)" font-family='"Liberation Serif", serif' font-size="100" fill="#000">,</text><text transform="matrix(0 -0.53210 0.49078 0 781.41 697.26)" font-family='"Liberation Serif", serif' font-size="100" fill="#000">dB</text><text transform="matrix(0.44491 0 0 0.39011 914.44 775.01)" font-family='"Liberation Sans", sans-serif' font-size="100" font-weight="bold" fill="#ff0000">9 mA</text><text transform="matrix(0.44326 0 0 0.38996 892.73 825.81)" font-family='"Liberation Sans", sans-serif' font-size="100" font-weight="bold" fill="#00ff00">15 mA</text><text transform="matrix(0.44456 0 0 0.38710 891.64 876.80)" font-family='"Liberation Sans", sans-serif' font-size="100" font-weight="bold" fill="#0000ff">21 mA</text><text transform="matrix(0.44456 0 0 0.38996 891.64 927.90)" font-family='"Liberation Sans", sans-serif' font-size="100" font-weight="bold" fill="#ff00ff">27 mA</text></g>
</svg></body></html>
